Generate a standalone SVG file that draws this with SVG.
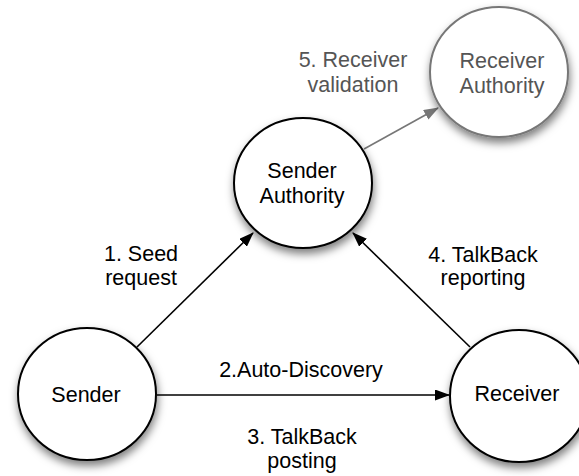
<svg xmlns="http://www.w3.org/2000/svg" width="579" height="476" viewBox="0 0 579 476">
<defs>
<filter id="sh" x="-30%" y="-30%" width="160%" height="170%">
<feDropShadow dx="1" dy="5" stdDeviation="4" flood-color="#000" flood-opacity="0.5"/>
</filter>
<marker id="ah" markerWidth="15" markerHeight="11" refX="14" refY="5.5" orient="auto" markerUnits="userSpaceOnUse">
<path d="M0,0 L15,5.5 L0,11 Z" fill="#000"/>
</marker>
<marker id="ahg" markerWidth="15" markerHeight="11" refX="14" refY="5.5" orient="auto" markerUnits="userSpaceOnUse">
<path d="M0,0 L15,5.5 L0,11 Z" fill="#777"/>
</marker>
</defs>
<style>
.n{fill:#fff;stroke:#000;stroke-width:2;filter:url(#sh)}
.ng{fill:#fff;stroke:#777;stroke-width:2;filter:url(#sh)}
text{font-family:"Liberation Sans",Arial,sans-serif;font-size:21.5px;text-anchor:middle;fill:#000}
.g{fill:#555}
.c{stroke:#000;stroke-width:1.6;fill:none;marker-end:url(#ah)}
.cg{stroke:#777;stroke-width:1.6;fill:none;marker-end:url(#ahg)}
</style>
<g id="connectors">
<line class="c" x1="137" y1="347" x2="253" y2="233"/>
<line class="c" x1="157" y1="395" x2="449" y2="395"/>
<line class="c" x1="470" y1="347" x2="353" y2="233"/>
<line class="cg" x1="364" y1="149" x2="438" y2="108"/>
<text x="141" y="261">1. Seed</text>
<text x="141" y="285">request</text>
<text x="301" y="377">2.Auto-Discovery</text>
<text x="302" y="444">3. TalkBack</text>
<text x="302" y="468">posting</text>
<text x="483" y="262">4. TalkBack</text>
<text x="483" y="285">reporting</text>
<text class="g" x="353" y="67">5. Receiver</text>
<text class="g" x="353" y="92">validation</text>
</g>
<g id="sender-authority">
<ellipse class="n" cx="303" cy="183" rx="69" ry="65"/>
<text x="302" y="178">Sender</text>
<text x="302" y="203">Authority</text>
</g>
<g id="receiver-authority">
<ellipse class="ng" cx="499" cy="72" rx="69" ry="65"/>
<text class="g" x="502" y="68">Receiver</text>
<text class="g" x="502" y="93">Authority</text>
</g>
<g id="sender">
<ellipse class="n" cx="87" cy="394" rx="69" ry="66"/>
<text x="86" y="402">Sender</text>
</g>
<g id="receiver">
<ellipse class="n" cx="519" cy="396" rx="69" ry="66"/>
<text x="517" y="401">Receiver</text>
</g>
</svg>
